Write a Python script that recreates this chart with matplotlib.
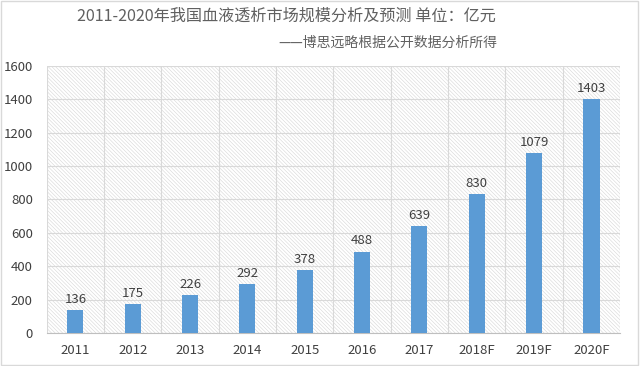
import numpy as np
import matplotlib.pyplot as plt
from matplotlib.patches import Rectangle

plt.rcParams['font.family'] = ['Noto Sans CJK SC', 'DejaVu Sans']
plt.rcParams['hatch.linewidth'] = 0.4
plt.rcParams['hatch.color'] = '#D6D6D6'

# Data -----------------------------------------------------------------
years = ['2011', '2012', '2013', '2014', '2015', '2016', '2017', '2018F', '2019F', '2020F']
values = [136, 175, 226, 292, 378, 488, 639, 830, 1079, 1403]

title = '2011-2020年我国血液透析市场规模分析及预测 单位：亿元'
subtitle = '——博思远略根据公开数据分析所得'

# Plot -----------------------------------------------------------------
fig = plt.figure(figsize=(6.4, 3.66), dpi=100)
ax = fig.add_axes([0.073, 0.090, 0.896, 0.730])

# hatched background
bg = Rectangle((0, 0), 1, 1, transform=ax.transAxes, facecolor='white',
               edgecolor='#D6D6D6', hatch='\\' * 9, linewidth=0, zorder=0)
ax.add_patch(bg)

x = np.arange(len(years))
ax.bar(x, values, width=0.28, color='#5B9BD5', zorder=3)
for xi, v in zip(x, values):
    ax.text(xi, v + 25, str(v), ha='center', va='bottom', fontsize=9.5,
            color='#404040', zorder=4)

ax.set_xlim(-0.5, len(years) - 0.5)
ax.set_ylim(0, 1600)
ax.set_yticks(np.arange(0, 1601, 200))
ax.set_xticks(x)
ax.set_xticklabels(years)
ax.set_xticks(np.arange(-0.5, len(years)), minor=True)
ax.grid(True, axis='y', color='#D9D9D9', linewidth=0.8, zorder=1)
ax.grid(True, axis='x', which='minor', color='#D9D9D9', linewidth=0.8, zorder=1)
ax.tick_params(axis='both', which='both', length=0, labelsize=9.5,
               colors='#404040', pad=8)
ax.tick_params(axis='y', pad=10)
for side in ['top', 'right', 'left']:
    ax.spines[side].set_visible(False)
ax.spines['bottom'].set_color('#BFBFBF')

fig.text(0.448, 0.955, title, ha='center', va='center', fontsize=11.6,
         color='#606060')
fig.text(0.777, 0.883, subtitle, ha='right', va='center', fontsize=10,
         color='#606060')

# outer frame
fig.patches.append(Rectangle((0.002, 0.003), 0.995, 0.994, transform=fig.transFigure,
                             fill=False, edgecolor='#D9D9D9', linewidth=1))

fig.savefig('out.png', dpi=100)
